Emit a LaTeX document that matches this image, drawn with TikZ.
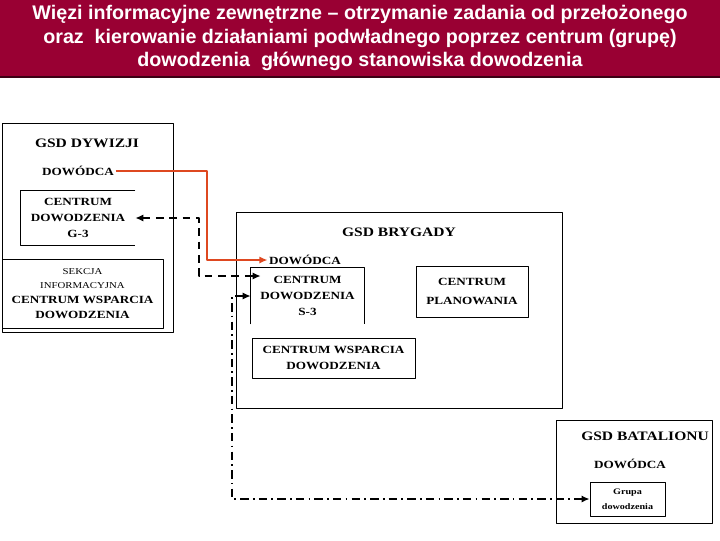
\documentclass[tikz,border=0pt]{standalone}
\usepackage{fontspec}
\setmainfont{Liberation Serif}[FakeStretch=1.2]
\newfontfamily\titlefont{Liberation Sans}
\usetikzlibrary{arrows.meta}
\definecolor{banner}{RGB}{153,0,51}
\definecolor{bannerline}{RGB}{60,0,20}
\definecolor{redline}{RGB}{222,72,32}
\tikzset{
  box/.style={draw, line width=0.6pt},
  lbl/.style={font=\bfseries\fontsize{7.8}{11.2}\selectfont, align=center, inner sep=1pt},
  head/.style={font=\bfseries\fontsize{9.2}{11}\selectfont, inner sep=1pt},
  redarrow/.style={redline, line width=1.8pt, ->},
  dasharrow/.style={line width=2pt, dash pattern=on 5.5pt off 4pt, <->},
  dotarrow/.style={line width=1.6pt, dash pattern=on 6pt off 3pt on 1.2pt off 3pt, <->},
}
\begin{document}
\begin{tikzpicture}[x=0.025cm, y=-0.025cm, >={Latex[length=2mm,width=1.8mm]}, line join=round]
\useasboundingbox (0,0) rectangle (720,540);
% naglowek
\fill[banner] (0,0) rectangle (720,77);
\draw[bannerline, line width=1pt] (0,77) -- (720,77);
\node[text=white, align=center, font=\titlefont\bfseries\fontsize{14}{16.7}\selectfont] (title) at (360,38)
  {Więzi informacyjne zewnętrzne – otrzymanie zadania od przełożonego\\
   oraz \ kierowanie działaniami podwładnego poprzez centrum (grupę)\\
   dowodzenia \ głównego stanowiska dowodzenia};

% GSD dywizji
\node[box, minimum width=4.275cm, minimum height=5.225cm] (dyw) at (87.5,227.5) {};
\node[head] (dywname) at (87,143) {GSD DYWIZJI};
\node[lbl] (dowdyw) at (78,171) {DOWÓDCA};
\node[lbl, minimum width=2.85cm, minimum height=1.375cm] (g3) at (78,218) {CENTRUM\\DOWODZENIA\\G-3};
\draw[line width=0.6pt] (g3.north east) -- (g3.north west) -- (g3.south west) -- (g3.south east);
\node[box, lbl, minimum width=4.025cm, minimum height=1.725cm, font=\fontsize{7.8}{10.6}\selectfont] (sekcja) at (82.5,293.5)
  {{\fontsize{6.4}{9}\selectfont SEKCJA}\\{\fontsize{6.4}{9}\selectfont INFORMACYJNA}\\\textbf{CENTRUM WSPARCIA}\\\textbf{DOWODZENIA}};

% GSD brygady
\node[box, minimum width=8.15cm, minimum height=4.9cm] (bryg) at (399,310) {};
\node[head] (brygname) at (399,232) {GSD BRYGADY};
\node[lbl] (dowbryg) at (305,260) {DOWÓDCA};
\node[lbl, minimum width=2.825cm, minimum height=1.4cm] (s3) at (307.5,296) {CENTRUM\\DOWODZENIA\\S-3};
\draw[line width=0.6pt] (s3.south west) -- (s3.north west) -- (s3.north east) -- (s3.south east);
\node[box, lbl, minimum width=2.8cm, minimum height=1.275cm] (plan) at (472,291.5) {CENTRUM\\[2pt]PLANOWANIA};
\node[box, lbl, minimum width=4.075cm, minimum height=1cm] (cwd) at (333.5,358) {CENTRUM WSPARCIA\\DOWODZENIA};

% GSD batalionu
\node[box, minimum width=3.9cm, minimum height=2.575cm] (bat) at (634,471.5) {};
\node[head] (batname) at (645,436) {GSD BATALIONU};
\node[lbl] (dowbat) at (630,464) {DOWÓDCA};
\node[box, lbl, font=\bfseries\fontsize{6}{10.4}\selectfont, minimum width=1.875cm, minimum height=0.85cm] (grupa) at (627.5,499) {Grupa\\dowodzenia};

% powiazania
\coordinate (kr) at (207,260);
\coordinate (kd) at (199,276);
\coordinate (kc) at (232,400);
\draw[redarrow] (dowdyw.east) -- ++(4,0) -| (kr) |- (dowbryg.west);
\draw[dasharrow, shorten >=-2.5mm] (g3.east) -| (kd) -- (kd -| s3.west);
\draw[dotarrow] (s3.west) -| (kc) |- (grupa.west);
\end{tikzpicture}
\end{document}
